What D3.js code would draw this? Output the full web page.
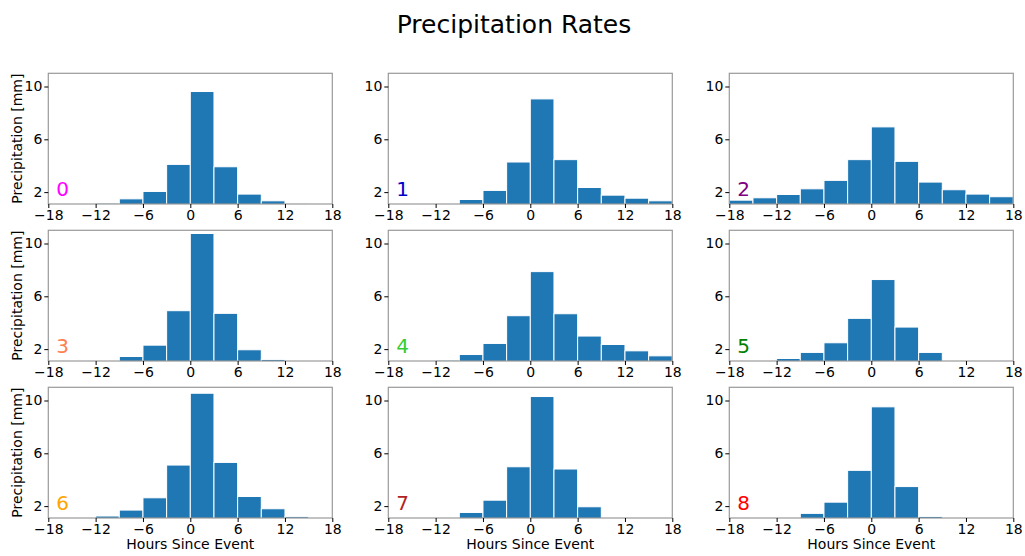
<!DOCTYPE html>
<html lang="en">
<head>
<meta charset="UTF-8">
<title>Precipitation Rates</title>
<style>
  body { margin: 0; background: #fff; }
  text { font-family: "DejaVu Sans", sans-serif; }
  .tick text { font-size: 14px; fill: #000; }
  .tick line { stroke: #000; }
  .domain { display: none; }
</style>
</head>
<body>
<div id="chart"></div>
<script src="https://cdn.jsdelivr.net/npm/d3@7"></script>
<script>
// bin start times (hours since event), each bin 3 hours wide
const binStarts = [-18, -15, -12, -9, -6, -3, 0, 3, 6, 9, 12, 15];
const binWidth = 3;

// precipitation per bin for each of the 9 clusters (0 = no visible bar)
const rates0 = [0, 0, 1.16, 1.49, 2.05, 4.10, 9.62, 3.92, 1.85, 1.34, 1.11, 0];
const rates1 = [0, 0, 1.14, 1.44, 2.13, 4.28, 9.06, 4.46, 2.35, 1.77, 1.54, 1.34];
const rates2 = [1.39, 1.57, 1.82, 2.25, 2.89, 4.46, 6.94, 4.33, 2.76, 2.18, 1.85, 1.65];
const rates3 = [0, 0, 0, 1.44, 2.30, 4.91, 10.76, 4.71, 1.95, 1.22, 0, 0];
const rates4 = [0, 0, 1.16, 1.59, 2.43, 4.53, 7.87, 4.68, 2.99, 2.35, 1.87, 1.49];
const rates5 = [0, 0, 1.29, 1.75, 2.48, 4.33, 7.27, 3.67, 1.75, 0, 0, 0];
const rates6 = [0, 0, 1.25, 1.70, 2.63, 5.11, 10.55, 5.31, 2.73, 1.80, 1.20, 0];
const rates7 = [0, 0, 0, 1.52, 2.45, 4.98, 10.30, 4.81, 1.95, 0, 0, 0];
const rates8 = [0, 0, 0, 1.45, 2.30, 4.71, 9.52, 3.48, 1.22, 0, 0, 0];

const allRates = [rates0, rates1, rates2, rates3, rates4, rates5, rates6, rates7, rates8];
const clusterLabels = ["0", "1", "2", "3", "4", "5", "6", "7", "8"];
const labelColors = ["magenta", "mediumblue", "purple", "coral", "limegreen", "green", "orange", "firebrick", "red"];

const xTicks = [-18, -12, -6, 0, 6, 12, 18];
const yTicks = [2, 6, 10];

const W = 1025, H = 556;
const colLeft = [48.3, 388.3, 729.3];
const rowTop = [73.3, 230.3, 387.3];
const pw = 284, ph = 130.7;

const svg = d3.select("#chart").append("svg")
    .attr("width", W)
    .attr("height", H);

svg.append("text")
    .attr("x", 514)
    .attr("y", 33)
    .attr("text-anchor", "middle")
    .style("font-size", "25px")
    .text("Precipitation Rates");

const x = d3.scaleLinear().domain([-18, 18]).range([0, pw]);
const y = d3.scaleLinear().domain([1.1, 11]).range([ph, 0]);

allRates.forEach((rates, i) => {
    const col = i % 3, row = Math.floor(i / 3);
    const g = svg.append("g")
        .attr("transform", `translate(${colLeft[col]},${rowTop[row]})`);

    const clipId = "clip" + i;
    g.append("clipPath").attr("id", clipId)
        .append("rect").attr("width", pw).attr("height", ph);

    const bins = binStarts.map((s, j) => ({ x0: s, x1: s + binWidth, v: rates[j] }))
        .filter(d => d.v > 0);

    g.append("g").attr("clip-path", `url(#${clipId})`)
        .selectAll("rect")
        .data(bins)
        .enter()
        .append("rect")
        .attr("x", d => x(d.x0))
        .attr("y", d => y(d.v))
        .attr("width", d => x(d.x1) - x(d.x0))
        .attr("height", d => ph + 5 - y(d.v))
        .attr("fill", "#1f77b4")
        .attr("stroke", "#ffffff")
        .attr("stroke-width", 1);

    g.append("rect")
        .attr("width", pw)
        .attr("height", ph)
        .attr("fill", "none")
        .attr("stroke", "#999")
        .attr("stroke-width", 1.2);

    g.append("g")
        .attr("transform", `translate(0,${ph})`)
        .call(d3.axisBottom(x).tickValues(xTicks).tickSize(4).tickPadding(2)
            .tickFormat(d => d < 0 ? "\u2212" + Math.abs(d) : d));

    g.append("g")
        .call(d3.axisLeft(y).tickValues(yTicks).tickSize(4).tickPadding(2));

    g.append("text")
        .attr("x", x(-17))
        .attr("y", y(1.72))
        .attr("fill", labelColors[i])
        .style("font-size", "20px")
        .text(clusterLabels[i]);

    if (col === 0) {
        g.append("text")
            .attr("transform", "rotate(-90)")
            .attr("x", -ph / 2)
            .attr("y", -26)
            .attr("text-anchor", "middle")
            .style("font-size", "14px")
            .text("Precipitation [mm]");
    }
    if (row === 2) {
        g.append("text")
            .attr("x", pw / 2)
            .attr("y", ph + 31)
            .attr("text-anchor", "middle")
            .style("font-size", "14px")
            .text("Hours Since Event");
    }
});
</script>
</body>
</html>
